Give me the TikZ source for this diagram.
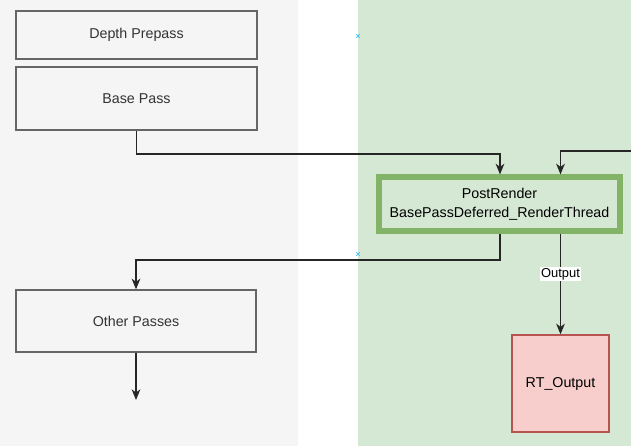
\documentclass[tikz,border=0pt]{standalone}
\usepackage{fontspec}
\setmainfont{Liberation Sans}
\usetikzlibrary{arrows.meta,calc}
\definecolor{grayfill}{HTML}{F5F5F5}
\definecolor{grayline}{HTML}{666666}
\definecolor{graytext}{HTML}{333333}
\definecolor{greenfill}{HTML}{D5E8D4}
\definecolor{greenline}{HTML}{82B366}
\definecolor{redfill}{HTML}{F8CECC}
\definecolor{redline}{HTML}{B85450}
\definecolor{crosscol}{HTML}{29B6F2}
\tikzset{
  passbox/.style={draw=grayline, fill=grayfill, text=graytext, line width=1pt,
    minimum width=241*0.75pt, inner sep=0pt, font=\fontsize{10.7}{13}\selectfont},
  prbox/.style={draw=greenline, fill=greenfill, line width=3.9pt, text=black,
    minimum width=241*0.75pt, minimum height=54*0.75pt, inner sep=0pt, align=center,
    font=\fontsize{10.7}{14}\selectfont},
  rtbox/.style={draw=redline, fill=redfill, line width=1pt, text=black,
    minimum width=97*0.75pt, minimum height=97*0.75pt, inner sep=0pt,
    font=\fontsize{10.7}{13}\selectfont},
  conn/.style={draw=black!85, line width=1pt,
    -{Stealth[length=8pt, width=6.5pt, inset=2.4pt]}},
  lbl/.style={fill=white, inner sep=0.8pt, text=black, font=\fontsize{9.7}{11}\selectfont},
  crossmark/.style={draw=crosscol, line width=0.5pt}
}
\begin{document}
\begin{tikzpicture}[x=0.75pt,y=-0.75pt]
\useasboundingbox (0,0) rectangle (631,446);
\fill[grayfill] (0,0) rectangle (298,446);
\fill[greenfill] (358,0) rectangle (631,446);

\node[passbox, minimum height=48*0.75pt] (dp) at (136.5,35) {Depth Prepass};
\node[passbox, minimum height=63*0.75pt] (bp) at (136.5,98.5) {Base Pass};
\node[passbox, minimum height=62*0.75pt, minimum width=240*0.75pt] (op) at (136,321) {Other Passes};
\node[prbox] (pr) at (499.5,204) {PostRender\\BasePassDeferred\_RenderThread};
\node[rtbox] (rt) at (560.5,383.5) {RT\_Output};

\coordinate (j1) at (500,154);
\coordinate (rin) at (631,151);
\coordinate (j2) at (136,260);
\coordinate (oend) at (136,400);

\draw[conn] (bp.south) |- (j1) -- (j1 |- pr.north);
\draw[conn] (rin) -| (pr.north -| rt.north);
\draw[conn] (pr.south -| j1) |- (j2) -- (op.north);
\draw[conn] (pr.south -| rt.north) -- node[lbl, pos=0.4] {Output} (rt.north);
\draw[conn] (op.south) -- (oend);

\coordinate (x1) at (358,36);
\coordinate (x2) at (358,254);
\foreach \c in {x1,x2}{
  \draw[crossmark] ($(\c)+(-2,-2)$) -- ($(\c)+(2,2)$);
  \draw[crossmark] ($(\c)+(-2,2)$) -- ($(\c)+(2,-2)$);
}
\end{tikzpicture}
\end{document}
